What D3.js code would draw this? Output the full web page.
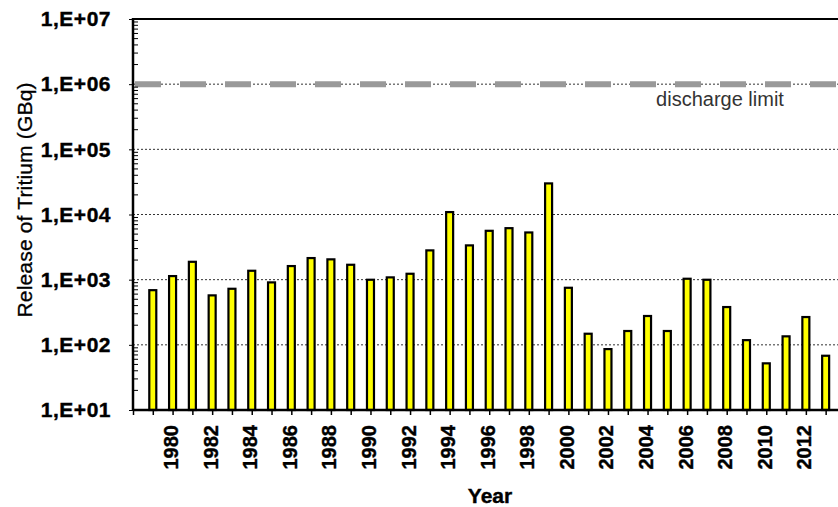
<!DOCTYPE html>
<html>
<head>
<meta charset="utf-8">
<script src="https://cdn.jsdelivr.net/npm/d3@7"></script>
<style>
  body { margin: 0; background: white; }
  svg { display: block; }
</style>
</head>
<body>
<svg></svg>
<script>
// data (GBq, log scale)
let years = [1979, 1980, 1981, 1982, 1983, 1984, 1985, 1986, 1987, 1988, 1989,
             1990, 1991, 1992, 1993, 1994, 1995, 1996, 1997, 1998, 1999,
             2000, 2001, 2002, 2003, 2004, 2005, 2006, 2007, 2008, 2009,
             2010, 2011, 2012, 2013];
let tritium = [690, 1135, 1880, 574, 725, 1370, 908, 1617, 2145, 2050, 1693,
               997, 1084, 1232, 2814, 10890, 3357, 5620, 6170, 5300, 30000,
               751, 148, 86, 163, 277, 163, 1033, 997, 380, 118,
               52, 135, 267, 68];
let yTicks = [1e1, 1e2, 1e3, 1e4, 1e5, 1e6, 1e7];
let xLabels = [1980, 1982, 1984, 1986, 1988, 1990, 1992, 1994, 1996, 1998,
               2000, 2002, 2004, 2006, 2008, 2010, 2012];
let dischargeLimit = 1e6;

function tritiumChart() {
    let W = 838, H = 507;
    let left = 133, top = 19, bottom = 410;

    let svg = d3.select("svg")
        .attr("width", W)
        .attr("height", H)
        .attr("font-family", "Liberation Sans, Arial, sans-serif");

    // years sit on whole steps, axis starts one step before the first bar
    let x = d3.scaleLinear().domain([1978, 2014]).range([left, left + 36 * 19.79]);
    let y = d3.scaleLog().domain([1e1, 1e7]).range([bottom, top]);

    // dotted grid lines at each decade
    svg.append("g").selectAll("line")
        .data(yTicks.slice(1, -1))
        .join("line")
        .attr("x1", left).attr("x2", W)
        .attr("y1", d => y(d)).attr("y2", d => y(d))
        .attr("stroke", "#333")
        .attr("stroke-width", 1)
        .attr("stroke-dasharray", "2,2");

    // discharge limit
    svg.append("line")
        .attr("x1", left + 2).attr("x2", W)
        .attr("y1", y(dischargeLimit)).attr("y2", y(dischargeLimit))
        .attr("stroke", "#999")
        .attr("stroke-width", 6)
        .attr("stroke-dasharray", "26,19");

    svg.append("text")
        .attr("x", 720)
        .attr("y", y(dischargeLimit) + 22)
        .attr("text-anchor", "middle")
        .attr("font-size", "20px")
        .attr("fill", "#333")
        .text("discharge limit");

    // bars
    svg.append("g").selectAll("rect")
        .data(years)
        .join("rect")
        .attr("x", d => x(d) - 3.5)
        .attr("width", 7)
        .attr("y", (d, i) => y(tritium[i]))
        .attr("height", (d, i) => bottom - y(tritium[i]))
        .attr("fill", "#ffff00")
        .attr("stroke", "black")
        .attr("stroke-width", 2.2);

    // y axis: minor ticks inside, labels outside
    let minor = [];
    for (let e = 1; e < 7; e++) {
        for (let m = 2; m <= 9; m++) minor.push(m * Math.pow(10, e));
    }
    svg.append("g").selectAll("line")
        .data(minor)
        .join("line")
        .attr("x1", left).attr("x2", left + 5)
        .attr("y1", d => y(d)).attr("y2", d => y(d))
        .attr("stroke", "black")
        .attr("stroke-width", 1);

    let yAxis = d3.axisLeft(y)
        .tickValues(yTicks)
        .tickSize(4)
        .tickPadding(18)
        .tickFormat(d => "1,E+" + String(Math.round(Math.log10(d))).padStart(2, "0"));
    let gy = svg.append("g")
        .attr("transform", "translate(" + left + ",0)")
        .call(yAxis);
    gy.select(".domain").remove();
    gy.selectAll("text")
        .attr("font-size", "21px")
        .attr("font-weight", "bold")
        .attr("letter-spacing", "0.5px")
        .attr("fill", "black")
        .attr("stroke", "black")
        .attr("stroke-width", 0.4)
        .attr("font-family", "Liberation Sans, Arial, sans-serif");

    // x axis ticks at every year
    let xAxis = d3.axisBottom(x)
        .tickValues(d3.range(1978, 2014))
        .tickSize(5)
        .tickFormat("");
    let gx = svg.append("g")
        .attr("transform", "translate(0," + bottom + ")")
        .call(xAxis);
    gx.select(".domain").remove();
    gx.selectAll("line").attr("stroke-width", 1.5);

    svg.append("g").selectAll("text")
        .data(xLabels)
        .join("text")
        .attr("transform", d => "translate(" + (x(d) + 5.5) + "," + (bottom + 15) + ") rotate(-90)")
        .attr("text-anchor", "end")
        .attr("font-size", "20px")
        .attr("font-weight", "bold")
        .attr("stroke", "black")
        .attr("stroke-width", 0.4)
        .text(d => d);

    // frame
    svg.append("line")
        .attr("x1", left).attr("x2", W)
        .attr("y1", top).attr("y2", top)
        .attr("stroke", "black").attr("stroke-width", 2);
    svg.append("line")
        .attr("x1", left).attr("x2", W)
        .attr("y1", bottom).attr("y2", bottom)
        .attr("stroke", "black").attr("stroke-width", 2.5);
    svg.append("line")
        .attr("x1", left).attr("x2", left)
        .attr("y1", top - 1).attr("y2", bottom + 1)
        .attr("stroke", "black").attr("stroke-width", 2.5);

    // axis titles
    svg.append("text")
        .attr("x", 490)
        .attr("y", 503)
        .attr("text-anchor", "middle")
        .attr("font-size", "21px")
        .attr("font-weight", "bold")
        .attr("stroke", "black")
        .attr("stroke-width", 0.4)
        .text("Year");

    svg.append("text")
        .attr("transform", "translate(32,200) rotate(-90)")
        .attr("text-anchor", "middle")
        .attr("font-size", "21px")
        .attr("textLength", 235)
        .attr("lengthAdjust", "spacing")
        .attr("stroke", "black")
        .attr("stroke-width", 0.3)
        .text("Release of Tritium (GBq)");
}
tritiumChart();
</script>
</body>
</html>
